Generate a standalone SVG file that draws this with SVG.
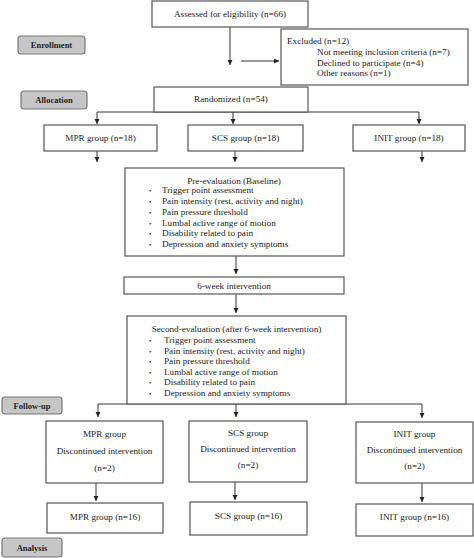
<svg xmlns="http://www.w3.org/2000/svg" width="474" height="558" viewBox="0 0 474 558">
<style>
text{font-family:"Liberation Serif","Times New Roman",serif;font-size:9.2px;fill:#222}
.c{text-anchor:middle}
.box{fill:#fff;stroke:#555;stroke-width:1.2}
.lab{fill:#c6c6c6;stroke:#777;stroke-width:1.2}
.lt{font-weight:bold;font-size:8.5px;text-anchor:middle}
.b{font-size:7px}
.con path{fill:none;stroke:#333;stroke-width:1}
</style>
<defs>
<marker id="ah" markerUnits="userSpaceOnUse" markerWidth="6" markerHeight="6" refX="5" refY="2.5" orient="auto">
<path d="M0,0 L5,2.5 L0,5 z" fill="#222"/>
</marker>
</defs>
<rect width="474" height="558" fill="#fff"/>
<g id="labels">
<g id="enrollment"><rect class="lab" x="18" y="36" width="67" height="18" rx="3"/><text class="lt" x="51.5" y="48">Enrollment</text></g>
<g id="allocation"><rect class="lab" x="21" y="91" width="66" height="18" rx="3"/><text class="lt" x="54" y="103">Allocation</text></g>
<g id="followup"><rect class="lab" x="2" y="397" width="60" height="17" rx="3"/><text class="lt" x="32" y="409">Follow-up</text></g>
<g id="analysis"><rect class="lab" x="2" y="538" width="60" height="19" rx="3"/><text class="lt" x="32" y="551">Analysis</text></g>
</g>
<g class="con" id="connectors">
<path d="M230,27 V65" marker-end="url(#ah)"/>
<path d="M241,61 H279" marker-end="url(#ah)"/>
<path d="M97,112 H419"/>
<path d="M97,112 V124" marker-end="url(#ah)"/>
<path d="M233,112 V124" marker-end="url(#ah)"/>
<path d="M419,112 V124" marker-end="url(#ah)"/>
<path d="M97,151 V162" marker-end="url(#ah)"/>
<path d="M235,151 V162" marker-end="url(#ah)"/>
<path d="M422,151 V162" marker-end="url(#ah)"/>
<path d="M236,256 V274" marker-end="url(#ah)"/>
<path d="M236,294 V313" marker-end="url(#ah)"/>
<path d="M98,404 H422"/>
<path d="M98,404 V417" marker-end="url(#ah)"/>
<path d="M236,404 V417" marker-end="url(#ah)"/>
<path d="M422,404 V418" marker-end="url(#ah)"/>
<path d="M96,483 V501" marker-end="url(#ah)"/>
<path d="M235,482 V500" marker-end="url(#ah)"/>
<path d="M422,483 V502" marker-end="url(#ah)"/>
</g>
<g id="assessed"><rect class="box" x="152" y="1" width="156" height="26"/><text class="c" x="230" y="17">Assessed for eligibility (n=66)</text></g>
<g id="excluded"><rect class="box" x="281" y="29" width="187" height="56"/>
<text x="287" y="44">Excluded (n=12)</text>
<text x="317" y="55">Not meeting inclusion criteria (n=7)</text>
<text x="317" y="65.5">Declined to participate (n=4)</text>
<text x="317" y="76">Other reasons (n=1)</text></g>
<g id="randomized"><rect class="box" x="154" y="87" width="154" height="25"/><text class="c" x="231" y="102">Randomized (n=54)</text></g>
<g id="mpr1"><rect class="box" x="44" y="125" width="113" height="26"/><text class="c" x="100.5" y="141">MPR group (n=18)</text></g>
<g id="scs1"><rect class="box" x="188" y="125" width="115" height="26"/><text class="c" x="245.5" y="141">SCS group (n=18)</text></g>
<g id="init1"><rect class="box" x="353" y="125" width="112" height="26"/><text class="c" x="409" y="141">INIT group (n=18)</text></g>
<g id="pre"><rect class="box" x="125" y="168" width="219" height="88"/>
<text class="c" x="234" y="184">Pre-evaluation (Baseline)</text>
<text class="b" x="149" y="193">•</text><text x="162" y="193">Trigger point assessment</text>
<text class="b" x="149" y="204">•</text><text x="162" y="204">Pain intensity (rest, activity and night)</text>
<text class="b" x="149" y="215">•</text><text x="162" y="215">Pain pressure threshold</text>
<text class="b" x="149" y="225.5">•</text><text x="162" y="225.5">Lumbal active range of motion</text>
<text class="b" x="149" y="236">•</text><text x="162" y="236">Disability related to pain</text>
<text class="b" x="149" y="247">•</text><text x="162" y="247">Depression and anxiety symptoms</text></g>
<g id="intervention"><rect class="box" x="124" y="277" width="220" height="17"/><text class="c" x="234" y="289">6-week intervention</text></g>
<g id="second"><rect class="box" x="127" y="316" width="219" height="88"/>
<text class="c" x="236.5" y="332">Second-evaluation (after 6-week intervention)</text>
<text class="b" x="149" y="343">•</text><text x="164" y="343">Trigger point assessment</text>
<text class="b" x="149" y="354">•</text><text x="164" y="354">Pain intensity (rest, activity and night)</text>
<text class="b" x="149" y="364">•</text><text x="164" y="364">Pain pressure threshold</text>
<text class="b" x="149" y="374.5">•</text><text x="164" y="374.5">Lumbal active range of motion</text>
<text class="b" x="149" y="385">•</text><text x="164" y="385">Disability related to pain</text>
<text class="b" x="149" y="395.5">•</text><text x="164" y="395.5">Depression and anxiety symptoms</text></g>
<g id="mpr2"><rect class="box" x="46" y="421" width="117" height="62"/>
<text class="c" x="104.5" y="437">MPR group</text><text class="c" x="104.5" y="454">Discontinued intervention</text><text class="c" x="104.5" y="471">(n=2)</text></g>
<g id="scs2"><rect class="box" x="189" y="421" width="118" height="61"/>
<text class="c" x="248" y="436">SCS group</text><text class="c" x="248" y="452">Discontinued intervention</text><text class="c" x="248" y="468">(n=2)</text></g>
<g id="init2"><rect class="box" x="356" y="422" width="117" height="61"/>
<text class="c" x="414.5" y="437">INIT group</text><text class="c" x="414.5" y="453">Discontinued intervention</text><text class="c" x="414.5" y="469">(n=2)</text></g>
<g id="mpr3"><rect class="box" x="47" y="503" width="116" height="30"/><text class="c" x="105" y="520">MPR group (n=16)</text></g>
<g id="scs3"><rect class="box" x="190" y="502" width="117" height="33"/><text class="c" x="248.5" y="519">SCS group (n=16)</text></g>
<g id="init3"><rect class="box" x="356" y="504" width="117" height="32"/><text class="c" x="414.5" y="520">INIT group (n=16)</text></g>
</svg>
